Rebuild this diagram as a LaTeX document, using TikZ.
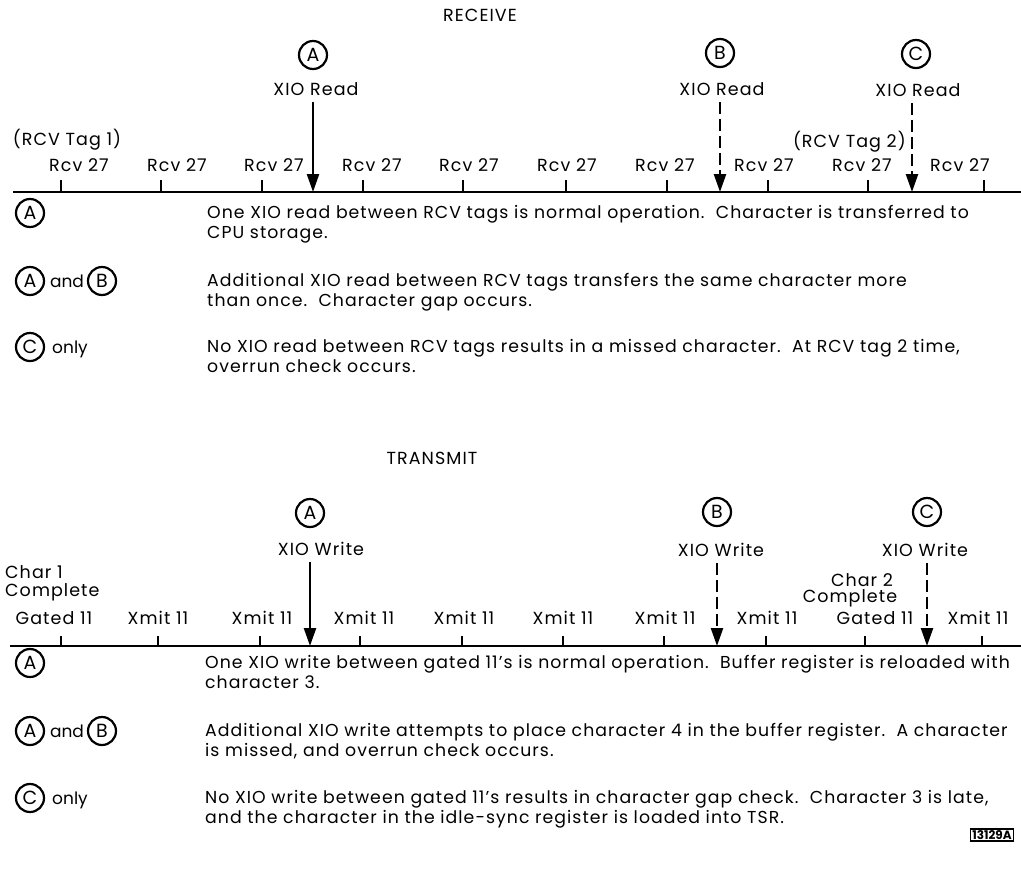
\documentclass[tikz,border=0pt]{standalone}
\usepackage{fontspec}
\setmainfont{Poppins}[LetterSpace=6]
\usetikzlibrary{arrows.meta,positioning}

\begin{document}
\begin{tikzpicture}[x=1pt,y=-1pt,
  letter/.style={draw,circle,line width=2.2pt,minimum size=28pt,inner sep=0pt,font=\fontsize{19}{19}\selectfont},
  timeline/.style={line width=2.8pt},
  tickmark/.style={line width=2.2pt},
  xio/.style={line width=2.4pt,shorten <=6pt,-{Triangle[length=18pt,width=12pt]}},
  later/.style={dash pattern=on 12pt off 5pt},
  lbl/.style={font=\fontsize{17.5}{18}\selectfont,inner sep=0pt},
  cond/.style={font=\fontsize{17}{17}\selectfont\addfontfeatures{LetterSpace=0},inner sep=0pt},
  desc/.style={font=\fontsize{17.3}{19.8}\selectfont,align=left,anchor=north west,inner sep=0pt}]
\useasboundingbox (0,0) rectangle (1021,871);

% Receive
\node[lbl] (rcvtitle) at (480,15) {RECEIVE};
\draw[timeline] (13,192) -- (1021,192);
\foreach \x in {61,161,262,363,463,566,667,768,868,984}
  \draw[tickmark] (\x,180) -- (\x,192);
\foreach \x [count=\i] in {79,177,274,372,469,567,665,764,862,960}
  \node[lbl] (rcv\i) at (\x,165) {Rcv 27};
\node[lbl] (tag1) at (67,140) {(RCV Tag 1)};
\node[lbl,anchor=east] (tag2) at (906,142) {(RCV Tag 2)};

\node[letter] (rA) at (313,55) {A};
\node[letter] (rB) at (720,53) {B};
\node[letter] (rC) at (916,54) {C};
\node[lbl] (rdA) at (316,89) {XIO Read};
\node[lbl] (rdB) at (722,89) {XIO Read};
\node[lbl] (rdC) at (918,90) {XIO Read};
\coordinate (rtA) at (313,192);
\coordinate (rtB) at (720,192);
\coordinate (rtC) at (912,192);
\draw[xio] (rdA.south -| rtA) -- (rtA);
\draw[xio,later] (rdB.south -| rtB) -- (rtB);
\draw[xio,later] (rdC.south -| rtC) -- (rtC);

\node[letter] (rkA) at (30,213) {A};
\node[desc] (rk1) at (207,205) {One XIO read between RCV tags is normal operation.\ \ Character is transferred to\\CPU storage.};
\node[letter] (rkA2) at (30,281) {A};
\node[cond] (rand) at (67,281) {and};
\node[letter] (rkB) at (102,281) {B};
\node[desc] (rk2) at (207,273) {Additional XIO read between RCV tags transfers the same character more\\than once.\ \ Character gap occurs.};
\node[letter] (rkC) at (30,347) {C};
\node[cond] (ronly) at (70,349) {only};
\node[desc] (rk3) at (207,339) {No XIO read between RCV tags results in a missed character.\ \ At RCV tag 2 time,\\overrun check occurs.};

% Transmit
\node[lbl] (xmttitle) at (432,458) {TRANSMIT};
\draw[timeline] (10,646) -- (1021,646);
\foreach \x in {61,158,260,360,462,563,664,766,865,982}
  \draw[tickmark] (\x,636) -- (\x,646);
\foreach \x/\t [count=\i] in {54/Gated 11,158/Xmit 11,262/Xmit 11,364/Xmit 11,464/Xmit 11,563/Xmit 11,665/Xmit 11,767/Xmit 11,875/Gated 11,978/Xmit 11}
  \node[lbl] (xmt\i) at (\x,618) {\t};
\node[lbl,anchor=west,align=left] (char1) at (5,583) {Char 1\\Complete};
\node[lbl] (char2) at (862,580) {Char 2};
\node[lbl] (cmpl2) at (850,598) {Complete};

\node[letter] (wA) at (310,513) {A};
\node[letter] (wB) at (717,512) {B};
\node[letter] (wC) at (927,512) {C};
\node[lbl] (wdA) at (321,549) {XIO Write};
\node[lbl] (wdB) at (721,550) {XIO Write};
\node[lbl] (wdC) at (925,550) {XIO Write};
\coordinate (wtA) at (310,646);
\coordinate (wtB) at (717,646);
\coordinate (wtC) at (927,646);
\draw[xio] (wdA.south -| wtA) -- (wtA);
\draw[xio,later] (wdB.south -| wtB) -- (wtB);
\draw[xio,later] (wdC.south -| wtC) -- (wtC);

\node[letter] (wkA) at (30,663) {A};
\node[desc] (wk1) at (205,655) {One XIO write between gated 11's is normal operation.\ \ Buffer register is reloaded with\\character 3.};
\node[letter] (wkA2) at (30,731) {A};
\node[cond] (wand) at (67,731) {and};
\node[letter] (wkB) at (102,731) {B};
\node[desc] (wk2) at (205,723) {Additional XIO write attempts to place character 4 in the buffer register.\ \ A character\\is missed, and overrun check occurs.};
\node[letter] (wkC) at (30,798) {C};
\node[cond] (wonly) at (70,800) {only};
\node[desc] (wk3) at (205,790) {No XIO write between gated 11's results in character gap check.\ \ Character 3 is late,\\and the character in the idle-sync register is loaded into TSR.};

\node[draw,line width=1.3pt,inner sep=1.5pt,font=\fontsize{12}{12}\selectfont\bfseries\addfontfeatures{LetterSpace=0}] (figno) at (992,835) {13129A};
\end{tikzpicture}
\end{document}
